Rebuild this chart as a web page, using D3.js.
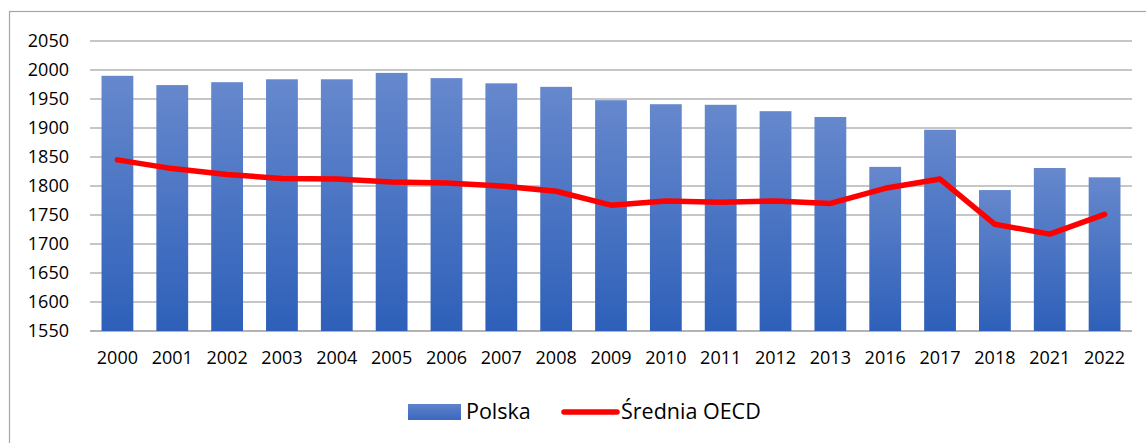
<!DOCTYPE html>
<html>
<head>
<meta charset="utf-8">
<script src="https://cdn.jsdelivr.net/npm/d3@7"></script>
<style>
  body { margin: 0; background: #fff; }
  svg { font-family: "Open Sans", sans-serif; }
</style>
</head>
<body>
<svg id="svg" width="1146" height="443"></svg>
<script>
// chart data
const years = ["2000", "2001", "2002", "2003", "2004", "2005", "2006", "2007", "2008", "2009",
  "2010", "2011", "2012", "2013", "2016", "2017", "2018", "2021", "2022"];
const polska = [1990, 1974, 1979, 1984, 1984, 1995, 1986, 1977, 1971, 1948,
  1941, 1940, 1929, 1919, 1833, 1897, 1793, 1831, 1815];
const oecd = [1845, 1830, 1820, 1813, 1812, 1807, 1805, 1800, 1791, 1767,
  1774, 1772, 1774, 1770, 1796, 1812, 1734, 1717, 1751];
const yTicks = [1550, 1600, 1650, 1700, 1750, 1800, 1850, 1900, 1950, 2000, 2050];

const svg = d3.select('#svg');

// outer frame
svg.append("rect")
  .attr("x", 9.5).attr("y", 11.5)
  .attr("width", 1146).attr("height", 460)
  .attr("fill", "none").attr("stroke", "#a6a6a6").attr("stroke-width", 1.2);

const plotLeft = 90, plotRight = 1132, plotTop = 41, plotBottom = 331;

const x = d3.scaleBand()
  .domain(years)
  .range([plotLeft, plotRight])
  .paddingInner(0.42)
  .paddingOuter(0.21);

const y = d3.scaleLinear()
  .domain([1550, 2050])
  .range([plotBottom, plotTop]);

// gradient for bars
const defs = svg.append("defs");
const grad = defs.append("linearGradient")
  .attr("id", "barGrad")
  .attr("x1", 0).attr("y1", 0).attr("x2", 0).attr("y2", 1);
grad.append("stop").attr("offset", "0%").attr("stop-color", "#6688cd");
grad.append("stop").attr("offset", "100%").attr("stop-color", "#2e60b9");

const lgrad = defs.append("linearGradient")
  .attr("id", "legGrad")
  .attr("x1", 0).attr("y1", 0).attr("x2", 0).attr("y2", 1);
lgrad.append("stop").attr("offset", "0%").attr("stop-color", "#5f82cb");
lgrad.append("stop").attr("offset", "100%").attr("stop-color", "#3a68bd");

// gridlines
svg.append("g")
  .selectAll("line")
  .data(yTicks)
  .enter()
  .append("line")
  .attr("x1", plotLeft).attr("x2", plotRight)
  .attr("y1", d => y(d)).attr("y2", d => y(d))
  .attr("stroke", d => d === 1550 ? "#9a9a9a" : "#b3b3b3")
  .attr("stroke-width", 1.5);

// y axis labels
svg.append("g")
  .selectAll("text")
  .data(yTicks)
  .enter()
  .append("text")
  .attr("x", 69)
  .attr("y", d => y(d))
  .attr("dy", "0.35em")
  .attr("text-anchor", "end")
  .attr("font-size", 18)
  .attr("fill", "#000")
  .text(d => d);

// bars
svg.append("g")
  .selectAll("rect")
  .data(years)
  .enter()
  .append("rect")
  .attr("x", d => x(d))
  .attr("y", (d, i) => y(polska[i]))
  .attr("width", x.bandwidth())
  .attr("height", (d, i) => y(1550) - y(polska[i]))
  .attr("fill", "url(#barGrad)");

// x axis labels
svg.append("g")
  .selectAll("text")
  .data(years)
  .enter()
  .append("text")
  .attr("x", d => x(d) + x.bandwidth() / 2)
  .attr("y", 364)
  .attr("text-anchor", "middle")
  .attr("font-size", 18)
  .attr("fill", "#000")
  .text(d => d);

// OECD line
const line = d3.line()
  .x((d, i) => x(years[i]) + x.bandwidth() / 2)
  .y(d => y(d));

svg.append("path")
  .datum(oecd)
  .attr("d", line)
  .attr("fill", "none")
  .attr("stroke", "#ff0000")
  .attr("stroke-width", 5.5)
  .attr("stroke-linejoin", "round")
  .attr("stroke-linecap", "round");

// legend
const legend = svg.append("g");
legend.append("rect")
  .attr("x", 408).attr("y", 404)
  .attr("width", 53).attr("height", 16)
  .attr("fill", "url(#legGrad)");
legend.append("text")
  .attr("x", 466).attr("y", 419)
  .attr("font-size", 21.5)
  .attr("fill", "#000")
  .text("Polska");
legend.append("line")
  .attr("x1", 564).attr("x2", 617)
  .attr("y1", 412).attr("y2", 412)
  .attr("stroke", "#ff0000")
  .attr("stroke-width", 5.5)
  .attr("stroke-linecap", "round");
legend.append("text")
  .attr("x", 621).attr("y", 419)
  .attr("font-size", 21.5)
  .attr("fill", "#000")
  .text("Średnia OECD");
</script>
</body>
</html>
